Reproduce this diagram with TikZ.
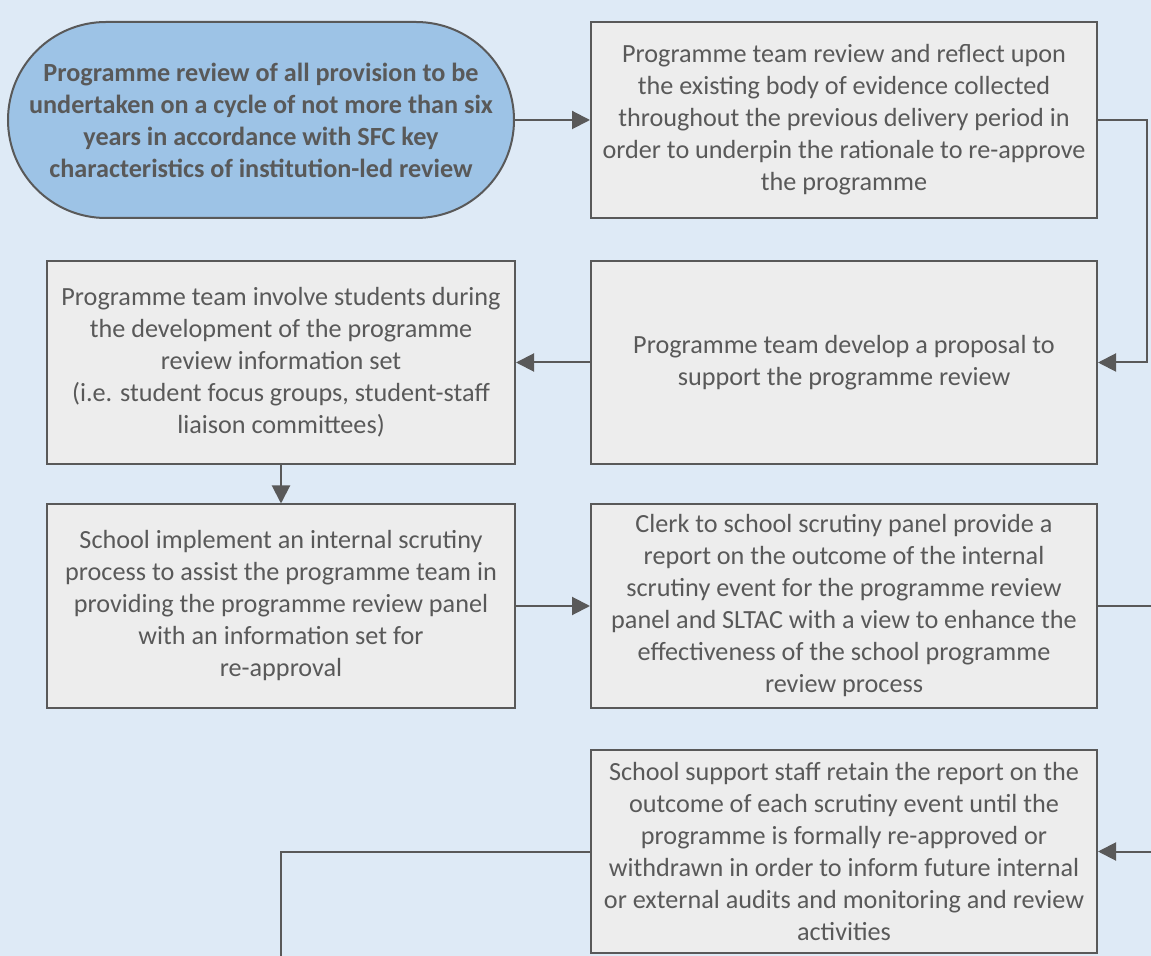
\documentclass[tikz,border=0pt]{standalone}
\usepackage{fontspec}
\setmainfont{Carlito}
\usetikzlibrary{arrows.meta}
\definecolor{mybg}{RGB}{222,234,246}
\definecolor{mybox}{RGB}{237,237,237}
\definecolor{mygray}{RGB}{89,89,89}
\definecolor{myblue}{RGB}{157,195,230}

\begin{document}
\begin{tikzpicture}[x=0.5pt,y=-0.5pt,
  procbox/.style={draw=mygray,line width=1pt,fill=mybox,text=mygray,align=center,
    inner sep=0pt,font=\fontsize{13.1}{16}\selectfont},
  widebox/.style={procbox,minimum width=253pt,minimum height=101.5pt},
  leftbox/.style={procbox,minimum width=234pt,minimum height=101.5pt},
  startbox/.style={procbox,fill=myblue,rounded corners=49pt,minimum width=253pt,
    minimum height=98pt,font=\fontsize{13.1}{16}\selectfont\bfseries},
  flow/.style={draw=mygray,line width=1pt,-{Triangle[length=9pt,width=9pt]}},
  link/.style={draw=mygray,line width=1pt}]

% canvas
\fill[mybg] (0,0) rectangle (1151,956);
\useasboundingbox (0,0) rectangle (1151,956);

% top row
\node[startbox] (start) at (261,120) {Programme review of all provision to be\\
  undertaken on a cycle of not more than six\\ years in accordance with SFC key\\
  characteristics of institution-led review};
\node[widebox,minimum height=98pt] (reflect) at (844,120) {Programme team review and reflect upon\\
  the existing body of evidence collected\\ throughout the previous delivery period in\\
  order to underpin the rationale to re-approve\\ the programme};

% second row
\node[widebox] (proposal) at (844,362.5) {Programme team develop a proposal to\\
  support the programme review};
\node[leftbox] (students) at (281,362.5) {Programme team involve students during\\
  the development of the programme\\ review information set\\
  (i.e. student focus groups, student-staff\\ liaison committees)};

% third row
\node[leftbox] (scrutiny) at (281,606) {School implement an internal scrutiny\\
  process to assist the programme team in\\ providing the programme review panel\\
  with an information set for\\ re-approval};
\node[widebox] (clerk) at (844,606) {Clerk to school scrutiny panel provide a\\
  report on the outcome of the internal\\ scrutiny event for the programme review\\
  panel and SLTAC with a view to enhance the\\ effectiveness of the school programme\\
  review process};

% fourth row
\node[widebox] (retain) at (844,851.5) {School support staff retain the report on the\\
  outcome of each scrutiny event until the\\ programme is formally re-approved or\\
  withdrawn in order to inform future internal\\ or external audits and monitoring and review\\
  activities};

\coordinate (outA) at (1151,606);
\coordinate (inB) at (1151,851.5);
\coordinate (outC) at (281,956);

% connectors
\draw[flow] (start) -- (reflect);
\draw[flow] (reflect.east) -- ++(49,0) |- (proposal.east);
\draw[flow] (proposal) -- (students);
\draw[flow] (students) -- (scrutiny);
\draw[flow] (scrutiny) -- (clerk);
\draw[link] (clerk.east) -- (outA);
\draw[flow] (inB) -- (retain.east);
\draw[link] (retain.west) -| (outC);
\end{tikzpicture}
\end{document}
